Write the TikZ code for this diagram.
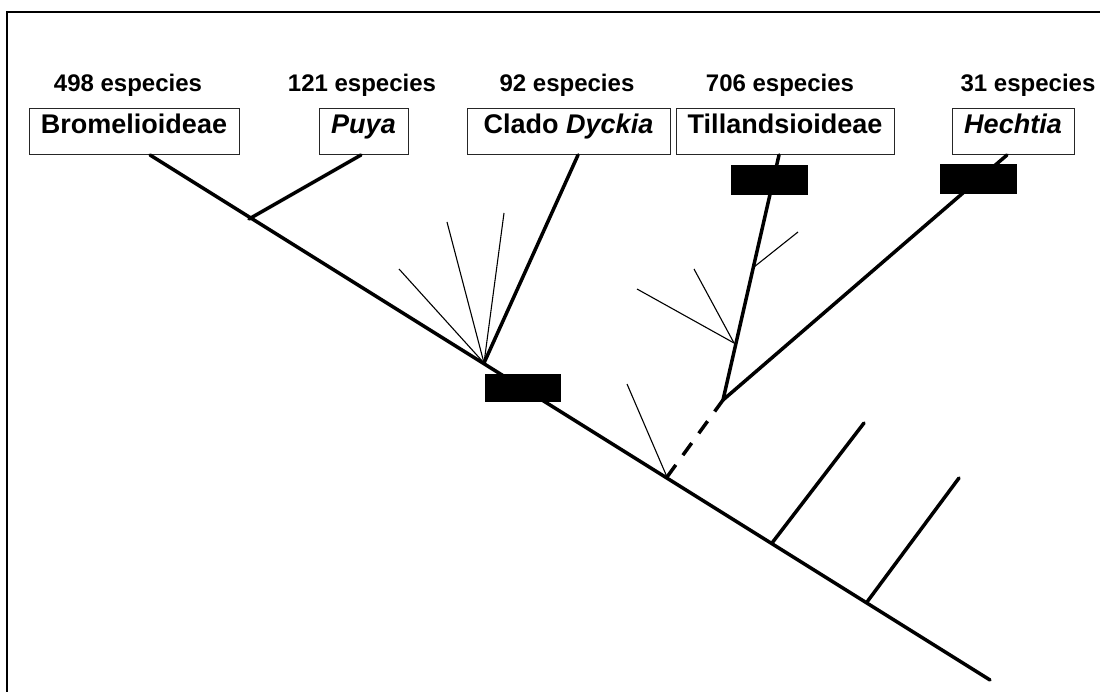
\documentclass[tikz,border=0pt]{standalone}
\usepackage{fontspec}
\setmainfont{Liberation Sans}
\begin{document}
\begin{tikzpicture}[x=1pt,y=-1pt,
  lbl/.style={draw=black!85,line width=0.9pt,minimum height=46pt,inner sep=0pt,
    text height=0.72em,text depth=0.22em,font=\fontsize{27}{32}\selectfont\bfseries},
  spc/.style={font=\fontsize{24}{28}\selectfont\bfseries,inner sep=0pt},
  bar/.style={fill=black,draw=none,minimum width=77pt,minimum height=30pt,inner sep=0pt},
  br/.style={line width=3.5pt,line cap=round},
  tw/.style={line width=1.1pt},
  frame/.style={line width=2pt}
]
\useasboundingbox (0,0) rectangle (1100,692);
\coordinate (fl) at (7,692);
\coordinate (fc) at (7,12);
\coordinate (fr) at (1100,12);
\draw[frame] (fl) -- (fc) -- (fr);

% species counts
\node[spc] (s1) at (128,85) {498 especies};
\node[spc] (s2) at (362,85) {121 especies};
\node[spc] (s3) at (567,85) {92 especies};
\node[spc] (s4) at (780,85) {706 especies};
\node[spc] (s5) at (1028,85) {31 especies};

% label boxes
\node[lbl,minimum width=210pt] (brom) at (134,131) {Bromelioideae};
\node[lbl,minimum width=89pt] (puya) at (363.5,131) {\itshape Puya};
\node[lbl,minimum width=203pt] (dyck) at (568.5,131) {Clado \itshape Dyckia};
\node[lbl,minimum width=218pt] (till) at (785,131) {Tillandsioideae};
\node[lbl,minimum width=122pt] (hech) at (1013,131) {\itshape Hechtia};

% tree points
\coordinate (t0) at (150,155);
\coordinate (tend) at (990,680);
\coordinate (pJ) at (249,219);
\coordinate (pT) at (361,155);
\coordinate (dJ) at (484,363);
\coordinate (dT) at (578,155);
\coordinate (bJ) at (667,477);
\coordinate (tJ) at (723,400);
\coordinate (tT) at (779,155);
\coordinate (hT) at (1007,155);
\coordinate (j1) at (772,543);
\coordinate (e1) at (864,423);
\coordinate (j2) at (867,602);
\coordinate (e2) at (959,478);
% thin side lines
\coordinate (f1) at (399,269);
\coordinate (f2) at (447,222);
\coordinate (f3) at (504,213);
\coordinate (g1) at (627,384);
\coordinate (kJ) at (734,343);
\coordinate (k1) at (637,289);
\coordinate (k2) at (694,269);
\coordinate (mJ) at (754,267);
\coordinate (m1) at (798,232);

\draw[br] (t0) -- (tend);
\draw[br] (pJ) -- (pT);
\draw[br] (dJ) -- (dT);
\draw[br,dash pattern=on 15pt off 12pt,line cap=butt] (bJ) -- (tJ);
\draw[br] (tJ) -- (tT);
\draw[br] (tJ) -- (hT);
\draw[br] (j1) -- (e1);
\draw[br] (j2) -- (e2);

\draw[tw] (dJ) -- (f1);
\draw[tw] (dJ) -- (f2);
\draw[tw] (dJ) -- (f3);
\draw[tw] (bJ) -- (g1);
\draw[tw] (kJ) -- (k1);
\draw[tw] (kJ) -- (k2);
\draw[tw] (mJ) -- (m1);

% black bars
\node[bar] (rT) at (769.5,180) {};
\node[bar] (rH) at (978.5,179) {};
\node[bar,minimum width=76pt,minimum height=28pt] (rD) at (523,388) {};
\end{tikzpicture}
\end{document}
